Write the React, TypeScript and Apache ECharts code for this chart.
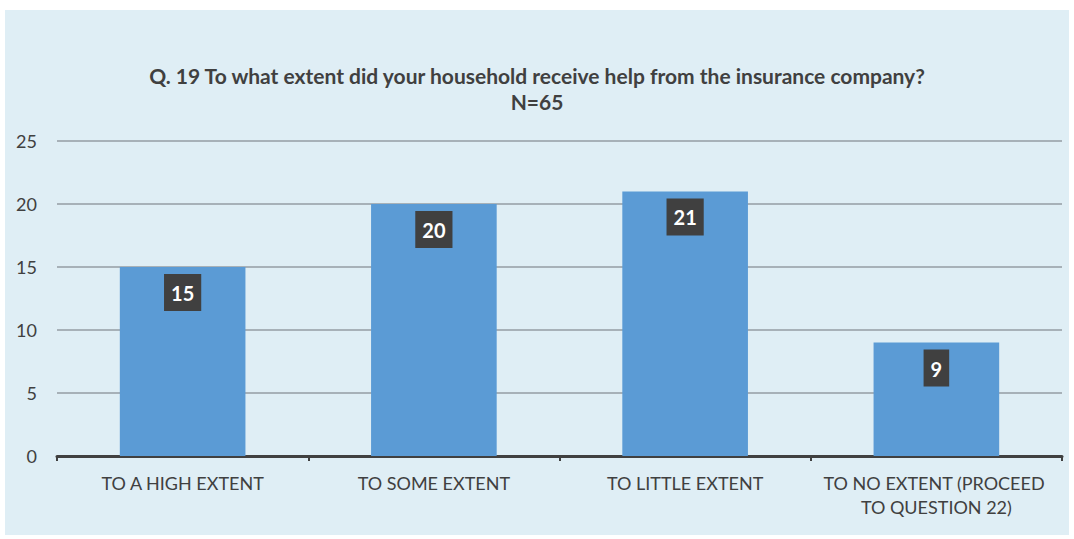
import React, { useEffect, useRef } from "react";
import * as echarts from "echarts";

const categories = [
  "TO A HIGH EXTENT",
  "TO SOME EXTENT",
  "TO LITTLE EXTENT",
  "TO NO EXTENT (PROCEED TO QUESTION 22)",
];
const values = [15, 20, 21, 9];
const titleLines = [
  "Q. 19 To what extent did your household receive help from the insurance company?",
  "N=65",
];

export default function App() {
  const ref = useRef<HTMLDivElement>(null);
  useEffect(() => {
    if (!ref.current) return;
    const chart = echarts.init(ref.current, null, { renderer: "svg" });
    const titleStyle = {
      fontFamily: "Lato",
      fontWeight: "bold",
      fontSize: 21,
      color: "#404040",
      lineHeight: 21,
    };
    chart.setOption({
      animation: false,
      backgroundColor: "#ffffff",
      graphic: [
        {
          type: "rect",
          shape: { x: 5, y: 10, width: 1064, height: 525 },
          style: { fill: "#DFEEF5" },
          z: -10,
        },
      ],
      title: titleLines.map((t, i) => ({
        text: t,
        left: "center",
        top: 65 + i * 26,
        padding: 0,
        textStyle: titleStyle,
      })),
      grid: { left: 57, right: 12, top: 141, bottom: 83, containLabel: false },
      xAxis: {
        type: "category",
        data: categories,
        axisLine: { lineStyle: { color: "#404040", width: 3 } },
        axisTick: { show: true, length: 5, lineStyle: { color: "#404040", width: 2 } },
        axisLabel: {
          interval: 0,
          fontFamily: "Lato",
          fontSize: 18,
          color: "#404040",
          margin: 15,
          width: 240,
          overflow: "break",
          lineHeight: 24,
        },
      },
      yAxis: {
        type: "value",
        min: 0,
        max: 25,
        interval: 5,
        axisLine: { show: false },
        axisTick: { show: false },
        splitLine: { lineStyle: { color: "#A7B1B8", width: 2 } },
        axisLabel: {
          fontFamily: "Lato",
          fontSize: 18,
          color: "#404040",
          margin: 20,
        },
      },
      series: [
        {
          type: "bar",
          data: values,
          barWidth: "50%",
          itemStyle: { color: "#5B9BD5" },
          label: {
            show: true,
            position: "insideTop",
            distance: 7,
            fontFamily: "Lato",
            fontWeight: "bold",
            fontSize: 20,
            color: "#ffffff",
            backgroundColor: "#404040",
            padding: [9, 7, 8, 7],
          },
        },
      ],
    });
    return () => chart.dispose();
  }, []);
  return (
    <div
      ref={ref}
      style={{ position: "fixed", left: 0, top: 0, width: 1074, height: 539 }}
    />
  );
}
